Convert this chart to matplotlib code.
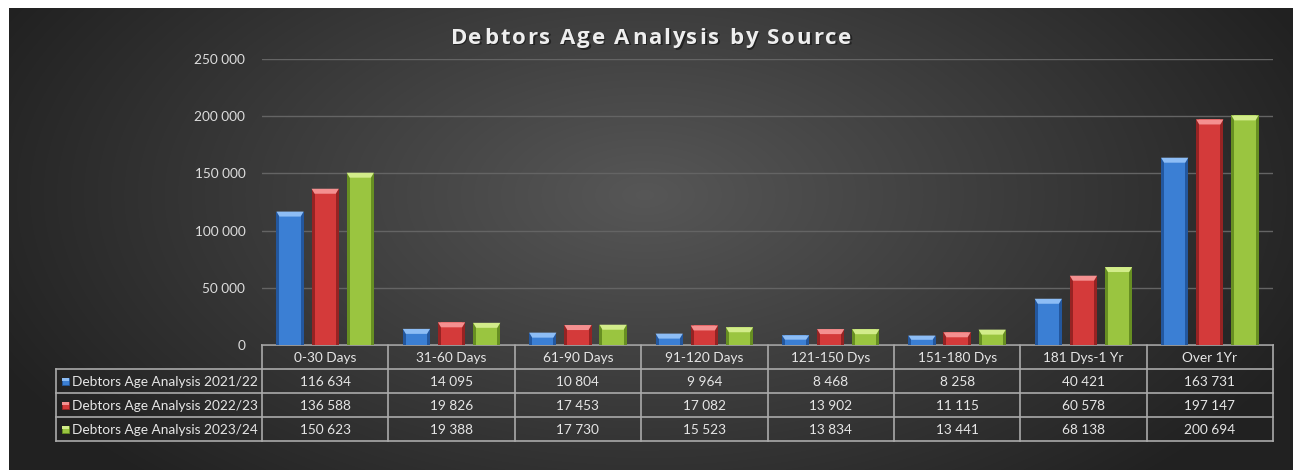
import numpy as np
import matplotlib.pyplot as plt
from matplotlib.patches import Rectangle, Polygon
from matplotlib.transforms import ScaledTranslation

plt.rcParams['font.family'] = ['Lato', 'DejaVu Sans']

# data
categories = ['0-30 Days', '31-60 Days', '61-90 Days', '91-120 Days',
              '121-150 Dys', '151-180 Dys', '181 Dys-1 Yr', 'Over 1Yr']
series_names = ['Debtors Age Analysis 2021/22',
                'Debtors Age Analysis 2022/23',
                'Debtors Age Analysis 2023/24']
v2122 = [116634, 14095, 10804, 9964, 8468, 8258, 40421, 163731]
v2223 = [136588, 19826, 17453, 17082, 13902, 11115, 60578, 197147]
v2324 = [150623, 19388, 17730, 15523, 13834, 13441, 68138, 200694]
yticks = [0, 50000, 100000, 150000, 200000, 250000]

series = [v2122, v2223, v2324]
# face, dark edge, light top
colors = [('#3b7fd4', '#23579e', '#8dbdf5'),
          ('#d43a3a', '#962323', '#f49090'),
          ('#9ac540', '#678f22', '#d2ec8a')]


def fmt(v):
    return f'{v:,}'.replace(',', ' ')


W, H = 1293, 470
fig = plt.figure(figsize=(W / 100, H / 100), dpi=100)
fig.patch.set_facecolor('white')

# background overlay in pixel coords
ov = fig.add_axes([0, 0, 1, 1], zorder=0)
ov.set_xlim(0, W)
ov.set_ylim(H, 0)
ov.axis('off')
yy, xx = np.mgrid[0:H, 0:W]
r = np.sqrt(((xx - 640) / 760.0) ** 2 + ((yy - 190) / 420.0) ** 2)
g = np.clip(0.34 - 0.22 * r, 0.13, 0.4)
ov.imshow(np.dstack([g, g, g]), extent=(9, W, H, 8), aspect='auto',
          interpolation='bilinear', zorder=0)

# title, drawn letter by letter for the wide tracking
title = 'Debtors Age Analysis by Source'
tkw = dict(fontsize=16, fontweight='bold', family='Open Sans', va='center')
renderer = fig.canvas.get_renderer()


def text_w(s):
    t = ov.text(0, 0, s, **tkw)
    w = t.get_window_extent(renderer).width
    t.remove()
    return w


dot = text_w('.')
lefts = [text_w(title[:k] + '.') - dot for k in range(len(title))]
track = 1.9
total = text_w(title) + track * (len(title) - 1)
x_start = 651 - total / 2
shadow = ov.transData + ScaledTranslation(1.5 / 100, -1.5 / 100, fig.dpi_scale_trans)
for k, ch in enumerate(title):
    if ch == ' ':
        continue
    xp = x_start + lefts[k] + k * track
    ov.text(xp, 38, ch, ha='left', color='#111111', alpha=0.6, zorder=2,
            transform=shadow, **tkw)
    ov.text(xp, 38, ch, ha='left', color='#eeeeee', zorder=3, **tkw)

# main chart axes
x_left, x_right, y_zero, y_top = 262, 1273, 345, 59
ax = fig.add_axes([x_left / W, 1 - y_zero / H, (x_right - x_left) / W,
                   (y_zero - y_top) / H], zorder=1)
ax.patch.set_alpha(0)
ax.set_xlim(-0.5, len(categories) - 0.5)
ax.set_ylim(0, 250000)
ax.set_yticks(yticks)
ax.set_yticklabels([fmt(t) for t in yticks], color='#dddddd', fontsize=9.8)
ax.tick_params(axis='y', length=0, pad=12)
ax.set_xticks([])
for s in ax.spines.values():
    s.set_visible(False)
ax.grid(axis='y', color='#646464', lw=1)
ax.set_axisbelow(True)

x = np.arange(len(categories))
bw = 0.215
offs = [-0.278, 0.0, 0.278]
px_y = 250000 / (y_zero - y_top)          # data units per pixel
px_x = len(categories) / (x_right - x_left)
side = 3 * px_x
bev = 5 * px_y
for vals, off, (face, dark, light) in zip(series, offs, colors):
    xs = x + off
    ax.bar(xs, vals, bw, color=dark, zorder=2)
    ax.bar(xs, vals, bw - 2 * side, color=face, zorder=3)
    for xc, v in zip(xs, vals):
        x0, x1 = xc - bw / 2, xc + bw / 2
        d = min(bev, v * 0.45)
        ax.add_patch(Polygon([(x0, v), (x1, v), (x1 - side, v - d),
                              (x0 + side, v - d)], closed=True,
                             facecolor=light, edgecolor='none', zorder=4))

# data table in pixel coords
col_w = (x_right - x_left) / len(categories)
row_y = [345, 369, 393, 417, 441]
lc = '#aaaaaa'
tab_left = 56
ov.plot([x_left, x_right], [row_y[0], row_y[0]], color=lc, lw=1.2, zorder=5)
for yv in row_y[1:]:
    ov.plot([tab_left, x_right], [yv, yv], color=lc, lw=1.2, zorder=5)
for i in range(len(categories) + 1):
    xv = x_left + i * col_w
    ov.plot([xv, xv], [row_y[0], row_y[-1]], color=lc, lw=1.2, zorder=5)
ov.plot([tab_left, tab_left], [row_y[1], row_y[-1]], color=lc, lw=1.2, zorder=5)

tc = '#e6e6e6'
fs = 9.8
for i, c in enumerate(categories):
    ov.text(x_left + (i + 0.5) * col_w, (row_y[0] + row_y[1]) / 2 + 1, c,
            ha='center', va='center', fontsize=fs, color=tc, zorder=6)
for j, (name, vals) in enumerate(zip(series_names, series)):
    yc = (row_y[j + 1] + row_y[j + 2]) / 2 + 1
    face, dark, light = colors[j]
    ov.add_patch(Rectangle((62, yc - 4), 7, 7, facecolor=face,
                           edgecolor=dark, lw=0.6, zorder=6))
    ov.add_patch(Rectangle((62, yc - 4), 7, 2.5, facecolor=light,
                           edgecolor='none', zorder=7))
    ov.text(72.5, yc, name, ha='left', va='center', fontsize=fs, color=tc,
            zorder=6)
    for i, v in enumerate(vals):
        ov.text(x_left + (i + 0.5) * col_w, yc, fmt(v),
                ha='center', va='center', fontsize=fs, color=tc, zorder=6)

fig.savefig('out.png', dpi=100)
